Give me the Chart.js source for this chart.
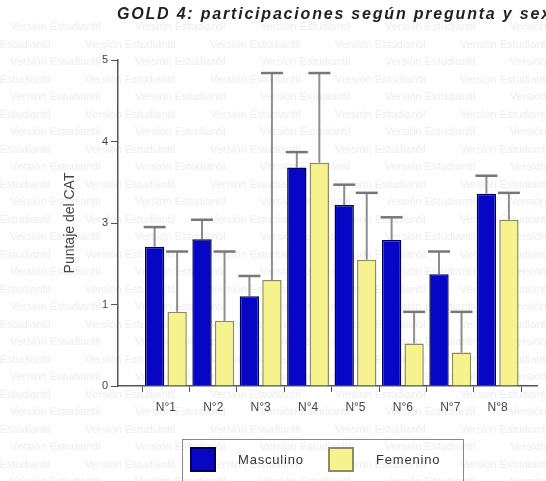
<!DOCTYPE html>
<html>
<head>
<meta charset="utf-8">
<script src="https://cdn.jsdelivr.net/npm/chart.js@4"></script>
<style>
  html, body { margin: 0; padding: 0; background: #fff; }
  #wrap { position: relative; width: 546px; height: 481px; overflow: hidden; }
  #title {
    position: absolute; left: 117px; top: 5px; white-space: nowrap;
    font: italic bold 16px "Liberation Sans", Arial, sans-serif; color: #222;
    letter-spacing: 1.8px;
  }
  #legend {
    position: absolute; left: 182px; top: 439px; width: 282px; height: 44px;
    border: 1px solid #8a8a8a; box-sizing: border-box;
    font: 13px "Liberation Sans", Arial, sans-serif; color: #333; letter-spacing: 0.8px;
  }
  .item { position: absolute; top: 7px; display: flex; align-items: center; }
  .sw { width: 26px; height: 25px; box-sizing: border-box; border: 2px solid; margin-right: 22px; }
</style>
</head>
<body>
<div id="wrap">
  <canvas id="chart" width="546" height="481"></canvas>
  <div id="title">GOLD 4: participaciones según pregunta y sexo</div>
  <div id="legend"></div>
</div>
<script>
// ===== Data =====
const categories = ['N°1', 'N°2', 'N°3', 'N°4', 'N°5', 'N°6', 'N°7', 'N°8'];
const yTickLabels = ['0', '1', '3', '4', '5'];

const masculino = [1.71, 1.80, 1.10, 2.68, 2.22, 1.79, 1.37, 2.36];
const masculinoErr = [0.24, 0.24, 0.25, 0.19, 0.25, 0.28, 0.28, 0.22];

const femenino = [0.91, 0.80, 1.30, 2.74, 1.55, 0.52, 0.41, 2.04];
const femeninoErr = [0.74, 0.85, 2.54, 1.10, 0.82, 0.39, 0.50, 0.33];

const errors = [masculinoErr, femeninoErr];

// ===== Faint watermark behind the plot =====
const watermark = {
    id: 'watermark',
    beforeDraw(chart) {
        const ctx = chart.ctx;
        ctx.save();
        ctx.fillStyle = '#ededed';
        ctx.filter = 'blur(0.6px)';
        ctx.font = '11px "Liberation Sans", Arial, sans-serif';
        for (let row = 0; row < 27; row++) {
            const y = 30 + row * 17.5;
            const shift = (row % 2) ? -40 : 10;
            for (let x = shift; x < 546; x += 125) {
                ctx.fillText('Versión Estudiantil', x, y);
            }
        }
        ctx.restore();
    }
};

// ===== Upward error bars =====
const errorBars = {
    id: 'errorBars',
    beforeDatasetsDraw(chart) {
        const ctx = chart.ctx;
        const yScale = chart.scales.y;
        ctx.save();
        chart.data.datasets.forEach((ds, i) => {
            const meta = chart.getDatasetMeta(i);
            meta.data.forEach((bar, j) => {
                const top = yScale.getPixelForValue(ds.data[j].y + errors[i][j]);
                const base = yScale.getPixelForValue(ds.data[j].y);
                ctx.strokeStyle = '#8e8e8e';
                ctx.lineWidth = 2;
                ctx.beginPath();
                ctx.moveTo(bar.x, base);
                ctx.lineTo(bar.x, top);
                ctx.stroke();
                ctx.strokeStyle = '#777';
                ctx.lineWidth = 2.5;
                ctx.beginPath();
                ctx.moveTo(bar.x - 11, top);
                ctx.lineTo(bar.x + 11, top);
                ctx.stroke();
            });
        });
        ctx.restore();
    }
};

const ctx = document.getElementById('chart').getContext('2d');
const chart = new Chart(ctx, {
    type: 'bar',
    data: {
        datasets: [
            {
                label: 'Masculino',
                data: masculino.map((v, i) => ({ x: i, y: v })),
                backgroundColor: '#0606c4',
                borderColor: '#00005e',
                borderWidth: 1.5
            },
            {
                label: 'Femenino',
                data: femenino.map((v, i) => ({ x: i, y: v })),
                backgroundColor: '#f6f38e',
                borderColor: '#8e8c5e',
                borderWidth: 1.5
            }
        ]
    },
    options: {
        responsive: false,
        animation: false,
        layout: { padding: { left: 62, right: 9, top: 60, bottom: 67 } },
        categoryPercentage: 0.95,
        barPercentage: 0.86,
        plugins: { legend: { display: false }, tooltip: { enabled: false } },
        scales: {
            x: {
                type: 'linear',
                offset: false,
                min: -1.01,
                max: 7.83,
                afterBuildTicks: (scale) => { scale.ticks = categories.map((_, i) => ({ value: i })); },
                ticks: {
                    callback: (v) => categories[v],
                    color: '#444',
                    font: { size: 12, family: '"Liberation Sans", Arial' },
                    padding: 8,
                    maxRotation: 0
                },
                grid: { drawOnChartArea: false, tickLength: 6, color: '#555' },
                border: { color: '#555', width: 1.5 },
                afterFit: (scale) => { scale.height = 28; }
            },
            y: {
                min: 0,
                max: 4,
                ticks: {
                    stepSize: 1,
                    callback: (v) => yTickLabels[v],
                    color: '#444',
                    font: { size: 11, family: '"Liberation Sans", Arial' },
                    padding: 3
                },
                grid: { drawOnChartArea: false, tickLength: 7, color: '#555' },
                border: { color: '#555', width: 1.5 },
                title: {
                    display: true,
                    text: 'Puntaje del CAT',
                    color: '#444',
                    font: { size: 14, family: '"Liberation Sans", Arial' },
                    padding: 0
                },
                afterFit: (scale) => { scale.width = 56; }
            }
        }
    },
    plugins: [watermark, errorBars]
});

// ===== HTML legend from the datasets =====
const legendEl = document.getElementById('legend');
const positions = [7, 145];
chart.data.datasets.forEach((ds, i) => {
    const item = document.createElement('div');
    item.className = 'item';
    item.style.left = positions[i] + 'px';
    item.innerHTML = `<span class="sw" style="background:${ds.backgroundColor};border-color:${ds.borderColor}"></span>${ds.label}`;
    legendEl.appendChild(item);
});
</script>
</body>
</html>
